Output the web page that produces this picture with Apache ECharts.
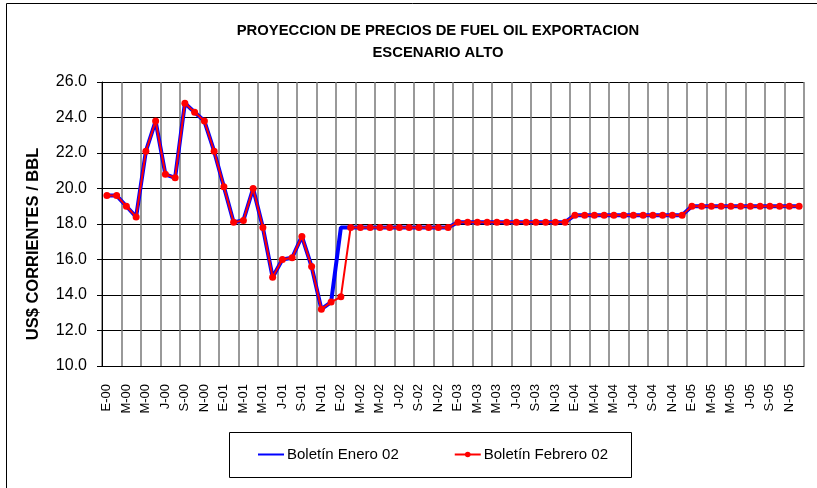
<!DOCTYPE html>
<html>
<head>
<meta charset="utf-8">
<script src="https://cdn.jsdelivr.net/npm/echarts@6/dist/echarts.min.js"></script>
<style>
  html, body { margin: 0; padding: 0; background: #fff; }
  #chart { width: 817px; height: 488px; }
</style>
</head>
<body>
<div id="chart"></div>
<script>
/* datos */
var meses = ['E', 'F', 'M', 'A', 'M', 'J', 'J', 'A', 'S', 'O', 'N', 'D'];
var anios = ['00', '01', '02', '03', '04', '05'];

// Boletín Febrero 02 (con marcadores)
var febrero02 = [
    19.6, 19.6, 19.0, 18.4, 22.1, 23.8, 20.8, 20.6, 24.8, 24.3, 23.8, 22.1,
    20.1, 18.1, 18.2, 20.0, 17.8, 15.0, 16.0, 16.1, 17.3, 15.6, 13.2, 13.6,
    13.9, 17.8, 17.8, 17.8, 17.8, 17.8, 17.8, 17.8, 17.8, 17.8, 17.8, 17.8,
    18.1, 18.1, 18.1, 18.1, 18.1, 18.1, 18.1, 18.1, 18.1, 18.1, 18.1, 18.1,
    18.5, 18.5, 18.5, 18.5, 18.5, 18.5, 18.5, 18.5, 18.5, 18.5, 18.5, 18.5,
    19.0, 19.0, 19.0, 19.0, 19.0, 19.0, 19.0, 19.0, 19.0, 19.0, 19.0, 19.0
];
// Boletín Enero 02 (linea azul)
var enero02 = [
    19.6, 19.6, 19.0, 18.4, 22.1, 23.8, 20.8, 20.6, 24.8, 24.3, 23.8, 22.1,
    20.1, 18.1, 18.2, 20.0, 17.8, 15.0, 16.0, 16.1, 17.3, 15.6, 13.2, 13.6,
    17.8, 17.8, 17.8, 17.8, 17.8, 17.8, 17.8, 17.8, 17.8, 17.8, 17.8, 17.8,
    18.1, 18.1, 18.1, 18.1, 18.1, 18.1, 18.1, 18.1, 18.1, 18.1, 18.1, 18.1,
    18.5, 18.5, 18.5, 18.5, 18.5, 18.5, 18.5, 18.5, 18.5, 18.5, 18.5, 18.5,
    19.0, 19.0, 19.0, 19.0, 19.0, 19.0, 19.0, 19.0, 19.0, 19.0, 19.0, 19.0
];

var categorias = [];
for (var a = 0; a < anios.length; a++) {
    for (var m = 0; m < meses.length; m++) {
        categorias.push(meses[m] + '-' + anios[a]);
    }
}

var fuente = '"Liberation Sans", Arial, sans-serif';

var myChart = echarts.init(document.getElementById('chart'));
var option = {
    backgroundColor: '#fff',
    animation: false,
    title: {
        text: 'PROYECCION DE PRECIOS DE FUEL OIL EXPORTACION\nESCENARIO ALTO',
        left: 433,
        top: 15,
        textAlign: 'center',
        textStyle: {
            fontFamily: fuente,
            fontSize: 14.8,
            fontWeight: 'bold',
            color: '#000',
            lineHeight: 22
        }
    },
    graphic: [
        {   // borde exterior
            type: 'rect',
            shape: {x: 6.5, y: 3.5, width: 900, height: 600},
            style: {fill: null, stroke: '#000', lineWidth: 1},
            silent: true
        },
        {   // caja de la leyenda
            type: 'rect',
            shape: {x: 229.5, y: 432.5, width: 402, height: 45},
            style: {fill: '#fff', stroke: '#000', lineWidth: 1},
            silent: true,
            z: 1
        },
        {   // titulo del eje y
            type: 'text',
            x: 33,
            y: 244,
            rotation: Math.PI / 2,
            style: {
                text: 'US$ CORRIENTES / BBL',
                fontFamily: fuente,
                fontSize: 16.5,
                fontWeight: 'bold',
                fill: '#000',
                align: 'center',
                verticalAlign: 'middle'
            },
            silent: true
        }
    ],
    legend: {
        left: 257,
        top: 447,
        padding: 0,
        itemWidth: 26,
        itemHeight: 7,
        itemGap: 55,
        z: 5,
        textStyle: {fontFamily: fuente, fontSize: 15, color: '#000', padding: [0, 0, 0, -2]},
        data: [
            {name: 'Boletín Enero 02', itemStyle: {opacity: 0}},
            {name: 'Boletín Febrero 02'}
        ]
    },
    grid: {
        left: 102,
        right: 13,
        top: 82,
        bottom: 122
    },
    xAxis: {
        type: 'category',
        data: categorias,
        boundaryGap: true,
        axisLine: {lineStyle: {color: '#000', width: 1}},
        axisTick: {
            interval: 1,
            length: 5,
            lineStyle: {color: '#000'}
        },
        axisLabel: {
            interval: 1,
            rotate: 90,
            margin: 18,
            fontFamily: fuente,
            fontSize: 13,
            color: '#000'
        },
        splitLine: {
            show: true,
            interval: 1,
            lineStyle: {color: '#777', width: 1.5}
        }
    },
    yAxis: {
        type: 'value',
        min: 10,
        max: 26,
        interval: 2,
        axisLine: {show: true, lineStyle: {color: '#000', width: 1}},
        axisTick: {show: true, length: 5, lineStyle: {color: '#000'}},
        axisLabel: {
            margin: 15,
            fontFamily: fuente,
            fontSize: 16,
            color: '#000',
            formatter: function (v) { return v.toFixed(1); }
        },
        splitLine: {show: true, lineStyle: {color: '#000', width: 1}}
    },
    series: [
        {
            name: 'Boletín Enero 02',
            type: 'line',
            data: enero02,
            symbol: 'none',
            color: '#0000ff',
            lineStyle: {color: '#0000ff', width: 4},
            z: 2
        },
        {
            name: 'Boletín Febrero 02',
            type: 'line',
            data: febrero02,
            symbol: 'circle',
            symbolSize: 7,
            showAllSymbol: true,
            color: '#ff0000',
            itemStyle: {color: '#ff0000'},
            lineStyle: {color: '#ff0000', width: 2},
            z: 3
        }
    ]
};
myChart.setOption(option);
</script>
</body>
</html>
